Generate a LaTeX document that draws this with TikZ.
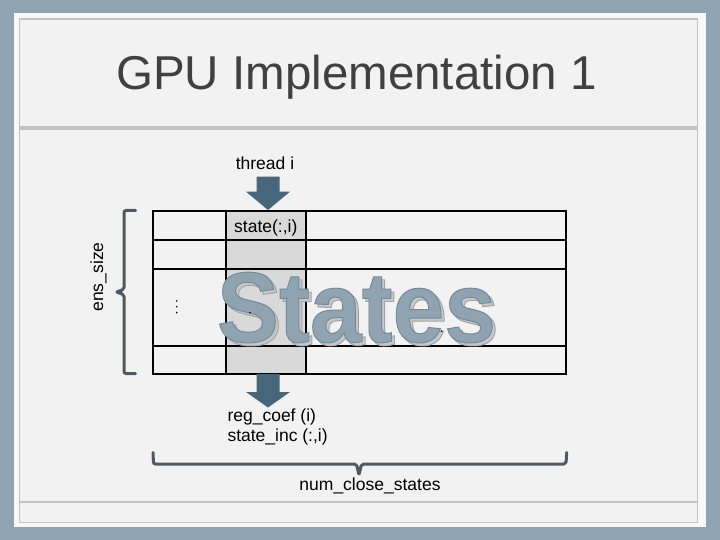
\documentclass[tikz,border=0pt]{standalone}
\usepackage{fontspec}
\setmainfont{Liberation Sans}
\usepackage{xcolor}
\usepackage{tikz}

\definecolor{slideblue}{HTML}{8FA4B1}
\definecolor{panelwhite}{HTML}{F8F8F8}
\definecolor{panelgray}{HTML}{F2F2F2}
\definecolor{framegray}{HTML}{C3C3C3}
\definecolor{titlegray}{HTML}{404040}
\definecolor{arrowblue}{HTML}{46667B}
\definecolor{bracegray}{HTML}{4F5A60}
\definecolor{cellgray}{HTML}{D9D9D9}
\definecolor{statesfill}{HTML}{8FA3B0}
\definecolor{shadowgray}{HTML}{C8C8C8}

% outlined (fill + stroke) text, #1 = stroke colour as pdf rgb
\newcommand{\outlinetext}[2]{\special{pdf:literal direct 2 Tr 1 w #1 RG}#2\special{pdf:literal direct 0 Tr}}

\begin{document}
\begin{tikzpicture}[
    x=1pt, y=-1pt,
    lbl/.style={font=\fontsize{17.5}{20}\selectfont, inner sep=0pt},
    grid/.style={draw=black, line width=1.8pt},
    blockarrow/.style={fill=arrowblue},
    brace/.style={draw=bracegray, line width=3pt, line cap=round, line join=round, rounded corners=2pt},
    frame/.style={draw=framegray, line width=1.5pt},
    wordart/.style={font=\fontsize{100}{100}\selectfont\bfseries, xscale=0.93, anchor=base, inner sep=0pt}
]
\useasboundingbox (0,0) rectangle (720,540);

% --- slide background ---
\fill[slideblue] (0,0) rectangle (720,540);
\fill[panelwhite] (14,13) rectangle (706,527);
\fill[panelgray] (20,19) rectangle (697,522);
\draw[frame] (19.5,19) rectangle (697.5,522.5);
\draw[framegray, line width=4pt] (19.5,128) -- (697.5,128);
\draw[frame] (19.5,502) -- (697.5,502);

% --- title ---
\node[font=\fontsize{47.5}{50}\selectfont, text=titlegray, anchor=base, inner sep=0pt] (title) at (356.5,90)
{GPU Implementation 1};

% --- state table ---
\coordinate (tabtl) at (152.7,211);
\coordinate (tabbr) at (565.7,374.3);
\fill[cellgray] (226,211) rectangle (305.7,374.3);
\foreach \y in {240,268.7,345.7}
    \draw[grid] (152.7,\y) -- (565.7,\y);
\foreach \x in {226,305.7}
    \draw[grid] (\x,211) -- (\x,374.3);
\draw[grid] (tabtl) rectangle (tabbr);

% --- big label over the table ---
\node[wordart, text=shadowgray] (statesshadow) at (359.5,345)
{\outlinetext{0.64 0.64 0.64}{States}};
\node[wordart, text=statesfill] (states) at (356.5,342)
{\outlinetext{0.46 0.54 0.6}{States}};

% --- dots ---
\foreach \y in {301,306.8,312.6}
    \fill (176.7,\y) circle (0.9);
\fill (250,312.7) circle (0.9);
\fill (441.7,331) circle (0.9);

% --- labels ---
\node[lbl, anchor=base] (thread) at (265,170) {thread i};
\node[lbl, anchor=base] (statecol) at (265.8,233) {state(:,i)};
\node[lbl, anchor=base west] (regcoef) at (227.3,421.7) {reg\_coef (i)};
\node[lbl, anchor=base west] (stateinc) at ([yshift=-20pt]regcoef.base west) {state\_inc (:,i)};
\node[lbl, anchor=base] (numclose) at (370,490) {num\_close\_states};
\node[lbl, rotate=90, anchor=base] (enssize) at (103,277) {ens\_size};

% --- block arrows in and out of column i ---
\coordinate (intip) at (268,210);
\fill[blockarrow] (intip) -- ++(22,-18.3) -- ++(-10.5,0) -- ++(0,-15) -- ++(-23,0) -- ++(0,15) -- ++(-10.5,0) -- cycle;
\coordinate (outtip) at (268,407.5);
\fill[blockarrow] (outtip) -- ++(22,-15.5) -- ++(-10.5,0) -- ++(0,-18) -- ++(-23,0) -- ++(0,18) -- ++(-10.5,0) -- cycle;

% --- braces ---
\draw[brace] (135.5,210.5) -- (124,210.5) -- (124,289.5) -- (116,292) -- (124,294.5) -- (124,373.5) -- (135.5,373.5);
\draw[brace] (153,452.5) -- (153.5,464) -- (356.5,464) -- (359,475) -- (361.5,464) -- (566,464) -- (566.7,452.5);

\end{tikzpicture}
\end{document}
